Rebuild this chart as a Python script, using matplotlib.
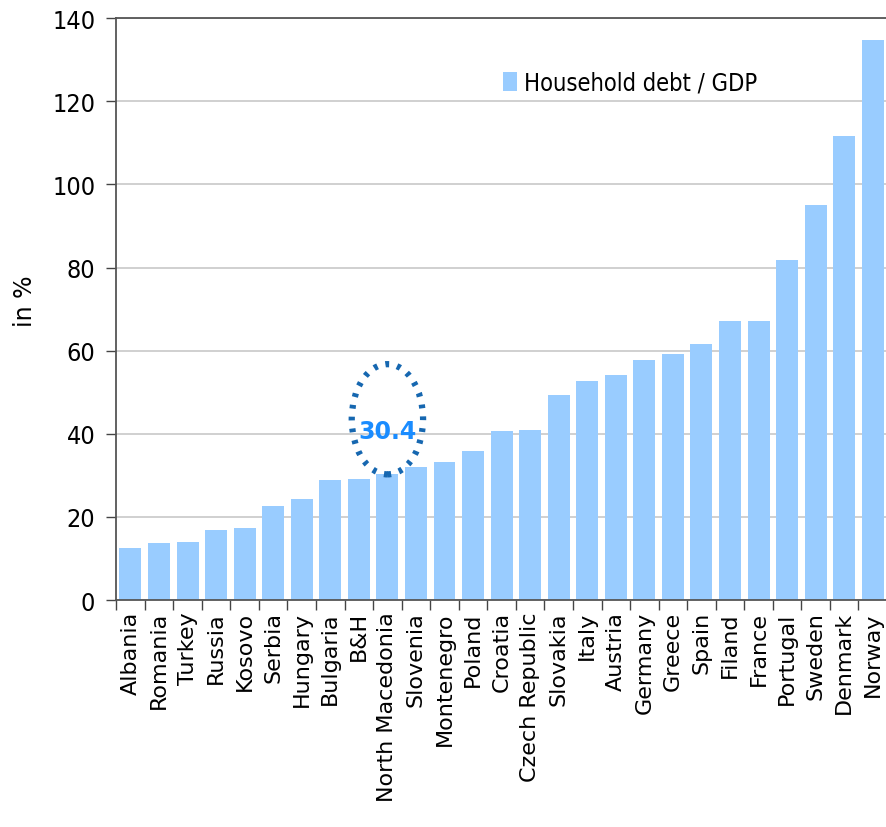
import matplotlib.pyplot as plt
from matplotlib.patches import Ellipse
from matplotlib import font_manager
import numpy as np

countries = ["Albania", "Romania", "Turkey", "Russia", "Kosovo", "Serbia", "Hungary",
             "Bulgaria", "B&H", "North Macedonia", "Slovenia", "Montenegro", "Poland",
             "Croatia", "Czech Republic", "Slovakia", "Italy", "Austria", "Germany",
             "Greece", "Spain", "Filand", "France", "Portugal", "Sweden", "Denmark", "Norway"]
debt_gdp = [12.5, 13.7, 14.0, 16.8, 17.3, 22.6, 24.3, 28.9, 29.1, 30.4, 32.0, 33.2, 35.8,
            40.7, 40.9, 49.4, 52.6, 54.1, 57.8, 59.1, 61.6, 67.1, 67.1, 81.7, 95.1, 111.6, 134.6]
highlight = "North Macedonia"

# condensed face for the y ticks and legend, if the system has one
cond = {f.name for f in font_manager.fontManager.ttflist if f.stretch in ("condensed", "semi-condensed")}
if "DejaVu Sans" in cond:
    narrow_prop = dict(family="DejaVu Sans", stretch="condensed")
    small = False
else:
    narrow_prop = dict(family="DejaVu Sans")
    small = True

fig = plt.figure(figsize=(8.87, 8.28), dpi=100)
ax = fig.add_axes([0.131, 0.274, 0.869, 0.703])

x = np.arange(len(countries))
ax.bar(x, debt_gdp, width=0.77, color="#99ccff", label="Household debt / GDP", zorder=2)

ax.set_xlim(-0.49, 26.43)
ax.set_ylim(0, 140)
ax.set_yticks(range(0, 141, 20))
ax.set_yticklabels([str(v) for v in range(0, 141, 20)], fontsize=16 if small else 18, **narrow_prop)
ax.yaxis.grid(True, color="#c8c8c8", lw=1.2, zorder=0)
ax.tick_params(axis="y", length=7, width=1, color="#444444", pad=8)

# labels at bar centres, tick marks between categories
ax.set_xticks(x)
ax.set_xticklabels(countries, rotation=90, fontsize=16)
ax.tick_params(axis="x", length=0, pad=8)
ax.set_xticks(np.append(x - 0.5, [len(countries) - 0.5]), minor=True)
ax.tick_params(axis="x", which="minor", length=7, width=1, color="#444444")

for side in ["left", "top", "bottom"]:
    ax.spines[side].set_color("#555555")
    ax.spines[side].set_linewidth(1.3)
ax.spines["right"].set_visible(False)

ax.set_ylabel("in %", fontsize=17)
ax.yaxis.set_label_coords(-0.103, 0.515)

i = countries.index(highlight)
val = debt_gdp[i]
ax.add_patch(Ellipse((i, 43.5), 2.5, 26.5, fill=False, ec="#1667b0", lw=4.5,
                     ls=(0, (0.6, 1.3)), zorder=4))
ax.text(i, 40.6, f"{val}", ha="center", va="center", fontsize=17, fontweight="bold",
        color="#1a8cff", zorder=5)

legend_prop = dict(narrow_prop, size=15 if small else 17)
ax.legend(loc="upper left", bbox_to_anchor=(0.474, 0.946), frameon=False,
          prop=legend_prop, handlelength=0.6, handleheight=0.85, handletextpad=0.3)

fig.savefig("out.png", dpi=100)
